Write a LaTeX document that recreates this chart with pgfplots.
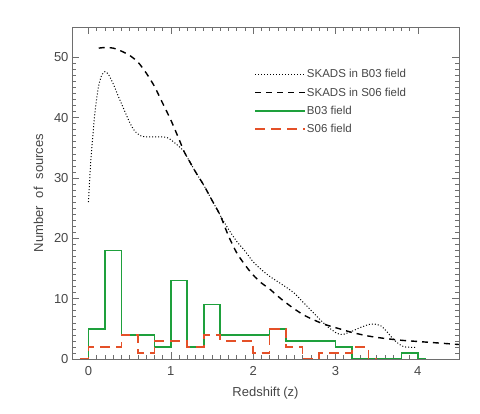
\documentclass[border=0pt]{standalone}
\usepackage{fontspec}
\setmainfont{Liberation Sans}
\usepackage{pgfplots}
\pgfplotsset{compat=1.18}
\definecolor{txtgray}{RGB}{70,70,70}
\definecolor{axgray}{RGB}{110,110,110}
\definecolor{bgreen}{RGB}{30,160,60}
\definecolor{sred}{RGB}{228,80,40}
\begin{document}
\begin{tikzpicture}
\path[use as bounding box] (0,0) rectangle (480pt,414pt);
\begin{axis}[
  scale only axis, width=387pt, height=332pt,
  at={(72pt,55pt)}, anchor=south west,
  xmin=-0.2, xmax=4.5, ymin=0, ymax=55,
  xtick={0,1,2,3,4}, ytick={0,10,20,30,40,50},
  minor x tick num=9, minor y tick num=9,
  tick align=inside, major tick length=7pt, minor tick length=4pt,
  axis line style={axgray, line width=0.5pt},
  every tick/.style={axgray, line width=0.5pt},
  /pgf/number format/assume math mode=true,
  tick label style={font=\fontsize{13}{15}\selectfont, text=txtgray},
  xticklabel style={yshift=-4pt},
  label style={font=\fontsize{13}{15}\selectfont, text=txtgray},
  xlabel={Redshift\hspace{0.25em}(z)},
  ylabel={Number\hspace{0.6em}of\hspace{0.6em}sources},
  xlabel style={yshift=-4pt},
  ylabel style={yshift=4pt},
  legend style={at={(0.463,0.882)}, anchor=north west, draw=none, fill=none,
    font=\fontsize{11.5}{13}\selectfont\color{txtgray}, row sep=6.5pt,
    nodes={inner sep=1pt}},
  legend cell align=left,
  legend image code/.code={\draw[#1] (0pt,0pt) -- (41pt,0pt); \path (0pt,0pt) -- (50pt,0pt);},
]
% SKADS in B03 field (dotted)
\addplot[black, line width=1pt, dash pattern=on 1pt off 2pt, smooth, tension=0.4] coordinates {
(0,26) (0.02,31) (0.04,35) (0.08,41) (0.12,45) (0.16,47) (0.2,47.6) (0.24,47.2)
(0.3,45.6) (0.36,43.6) (0.42,41.7) (0.5,39.2) (0.56,37.8) (0.63,37) (0.7,36.8)
(0.8,36.8) (0.9,36.8) (0.97,36.6) (1.03,36) (1.1,35.2) (1.16,34.4) (1.2,33.4)
(1.3,31) (1.4,28.8) (1.5,26.3) (1.6,23.8) (1.7,21.5) (1.8,19.5) (1.9,17.9)
(2.0,16.1) (2.1,14.8) (2.2,13.7) (2.3,12.8) (2.4,11.9) (2.5,10.9) (2.6,9.5)
(2.7,8.1) (2.8,6.7) (2.9,5.4) (3.0,4.4) (3.05,4.1) (3.1,4.1) (3.2,4.6) (3.3,5.2)
(3.4,5.7) (3.47,5.8) (3.55,5.5) (3.62,4.6) (3.7,3.3) (3.78,2.4) (3.84,2.0) (3.98,1.9)
};
\addlegendentry{SKADS in B03 field}
% SKADS in S06 field (dashed)
\addplot[black, line width=1.4pt, dash pattern=on 6pt off 5pt, smooth, tension=0.4] coordinates {
(0.125,51.5) (0.2,51.6) (0.3,51.5) (0.4,51) (0.5,50.3) (0.6,49.2) (0.7,47.4)
(0.8,45.2) (0.9,42.4) (1.0,39.6) (1.1,36.4) (1.16,34.4) (1.2,33.4) (1.3,31)
(1.4,28.8) (1.5,26.3) (1.6,23.8) (1.7,20.4) (1.8,17.6) (1.9,15.6) (2.0,13.9)
(2.1,12.6) (2.2,11.6) (2.3,10.4) (2.4,9.3) (2.5,8.3) (2.6,7.4) (2.7,6.7)
(2.8,6.1) (2.9,5.6) (3.0,5.2) (3.2,4.4) (3.4,3.8) (3.6,3.4) (3.8,3.1) (4.0,2.9)
(4.2,2.7) (4.5,2.4)
};
\addlegendentry{SKADS in S06 field}
% B03 field histogram
\addplot[bgreen, line width=1.6pt, const plot] coordinates {
(0,0) (0,5) (0.2,18) (0.4,4) (0.6,4) (0.8,2) (1.0,13) (1.2,2) (1.4,9) (1.6,4)
(1.8,4) (2.0,4) (2.2,5) (2.4,3) (2.6,3) (2.8,3) (3.0,2) (3.2,0) (3.4,0) (3.6,0)
(3.8,1) (4.0,0) (4.1,0)
};
\addlegendentry{B03 field}
% S06 field histogram
\addplot[sred, line width=1.6pt, dash pattern=on 10pt off 6pt, const plot] coordinates {
(-0.1,0) (0,2) (0.2,2) (0.4,4) (0.6,1) (0.8,3) (1.0,3) (1.2,2) (1.4,4) (1.6,3)
(1.8,3) (2.0,1) (2.2,5) (2.4,2) (2.6,0) (2.8,1) (3.0,1) (3.2,2) (3.4,0) (3.5,0)
};
\addlegendentry{S06 field}
\end{axis}
\end{tikzpicture}
\end{document}
